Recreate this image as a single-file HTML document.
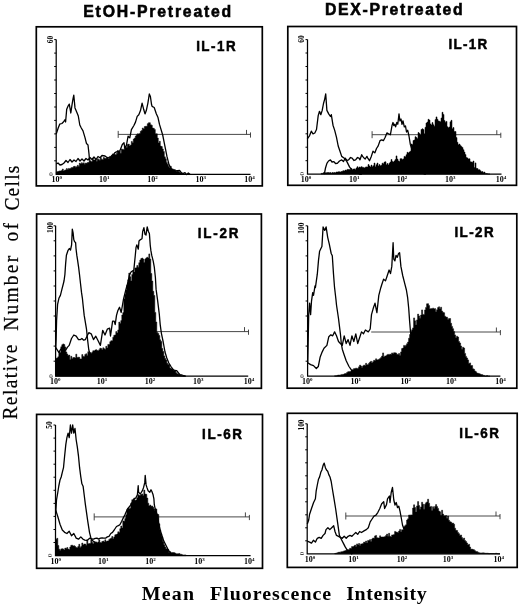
<!DOCTYPE html>
<html><head><meta charset="utf-8"><title>Figure</title>
<style>html,body{margin:0;padding:0;background:#fff;}svg{display:block;}</style></head>
<body><svg width="520" height="605" viewBox="0 0 520 605">
<rect width="520" height="605" fill="#fff"/>

<text x="90.5" y="17.1" transform="scale(0.92,1)" font-family="Liberation Sans, Arial, sans-serif" font-weight="bold" font-size="17.2" stroke="#000" stroke-width="0.6" textLength="160.9" lengthAdjust="spacing" fill="#000">EtOH-Pretreated</text>
<text x="353.2" y="15.2" transform="scale(0.92,1)" font-family="Liberation Sans, Arial, sans-serif" font-weight="bold" font-size="17.2" stroke="#000" stroke-width="0.6" textLength="149.8" lengthAdjust="spacing" fill="#000">DEX-Pretreated</text>
<g font-family="Liberation Serif, serif" font-size="21.6" fill="#000" stroke="#000" stroke-width="0.25">
<text x="0" y="0" transform="translate(17.1 419.6) rotate(-90) scale(0.9,1)" textLength="83.3" lengthAdjust="spacing">Relative</text>
<text x="0" y="0" transform="translate(17.5 330.8) rotate(-90) scale(0.9,1)" textLength="83.3" lengthAdjust="spacing">Number</text>
<text x="0" y="0" transform="translate(18.4 241.6) rotate(-90) scale(0.9,1)" textLength="20.6" lengthAdjust="spacing">of</text>
<text x="0" y="0" transform="translate(18.6 210.6) rotate(-90) scale(0.9,1)" textLength="50" lengthAdjust="spacing">Cells</text>
</g>
<g font-family="Liberation Serif, serif" font-weight="bold" font-size="18.8" fill="#000">
<text x="133.8" y="600" transform="scale(1.06,1)" textLength="49.2" lengthAdjust="spacing">Mean</text>
<text x="198.2" y="600" transform="scale(1.06,1)" textLength="114.2" lengthAdjust="spacing">Fluorescence</text>
<text x="326.6" y="600" transform="scale(1.06,1)" textLength="75.9" lengthAdjust="spacing">Intensity</text>
</g>

<rect x="36.3" y="26.8" width="226" height="159.1" fill="none" stroke="#000" stroke-width="1.7"/>
<path d="M118.2,134.4H250.5M250.5,132.4V137.6M246.5,129.9V134.4M118.2,130.9V137.9" fill="none" stroke="#333" stroke-width="0.9"/>
<polygon points="56.3,174.3 56.3,172 56.3,171.9 57.3,171.9 57.3,171.6 58.3,171.6 58.3,171.3 59.3,171.3 59.3,170.9 60.3,170.9 60.3,171 61.3,171 61.3,170.6 62.3,170.6 62.3,169 63.3,169 63.3,171.1 64.3,171.1 64.3,170.3 65.3,170.3 65.3,169.9 66.3,169.9 66.3,168.6 67.3,168.6 67.3,169.5 68.3,169.5 68.3,168.4 69.3,168.4 69.3,168.8 70.3,168.8 70.3,168.2 71.3,168.2 71.3,167.6 72.3,167.6 72.3,167.6 73.3,167.6 73.3,166.6 74.3,166.6 74.3,166.3 75.3,166.3 75.3,167.2 76.3,167.2 76.3,166.7 77.3,166.7 77.3,165.3 78.3,165.3 78.3,166.6 79.3,166.6 79.3,163.1 80.3,163.1 80.3,163.9 81.3,163.9 81.3,162.7 82.3,162.7 82.3,163.5 83.3,163.5 83.3,162.8 84.3,162.8 84.3,164.3 85.3,164.3 85.3,163 86.3,163 86.3,163.3 87.3,163.3 87.3,162.5 88.3,162.5 88.3,162.3 89.3,162.3 89.3,160.9 90.3,160.9 90.3,161.7 91.3,161.7 91.3,161.5 92.3,161.5 92.3,158.3 93.3,158.3 93.3,160.1 94.3,160.1 94.3,159.9 95.3,159.9 95.3,158.9 96.3,158.9 96.3,161.2 97.3,161.2 97.3,158.7 98.3,158.7 98.3,159.5 99.3,159.5 99.3,160.2 100.3,160.2 100.3,157.6 101.3,157.6 101.3,159.2 102.3,159.2 102.3,159.7 103.3,159.7 103.3,157.6 104.3,157.6 104.3,158.2 105.3,158.2 105.3,158.5 106.3,158.5 106.3,158 107.3,158 107.3,157.1 108.3,157.1 108.3,158.8 109.3,158.8 109.3,156.4 110.3,156.4 110.3,156.8 111.3,156.8 111.3,155.3 112.3,155.3 112.3,153.9 113.3,153.9 113.3,154.5 114.3,154.5 114.3,153.9 115.3,153.9 115.3,154.9 116.3,154.9 116.3,153.4 117.3,153.4 117.3,150.6 118.3,150.6 118.3,152.1 119.3,152.1 119.3,151.2 120.3,151.2 120.3,153.3 121.3,153.3 121.3,148.9 122.3,148.9 122.3,149.5 123.3,149.5 123.3,149.4 124.3,149.4 124.3,146.3 125.3,146.3 125.3,146.4 126.3,146.4 126.3,147.6 127.3,147.6 127.3,144.5 128.3,144.5 128.3,144.1 129.3,144.1 129.3,146.1 130.3,146.1 130.3,145 131.3,145 131.3,141.4 132.3,141.4 132.3,142.7 133.3,142.7 133.3,139.1 134.3,139.1 134.3,138.1 135.3,138.1 135.3,136 136.3,136 136.3,134.7 137.3,134.7 137.3,133.8 138.3,133.8 138.3,134 139.3,134 139.3,133.6 140.3,133.6 140.3,131.3 141.3,131.3 141.3,130.6 142.3,130.6 142.3,128 143.3,128 143.3,129.1 144.3,129.1 144.3,126.6 145.3,126.6 145.3,126.3 146.3,126.3 146.3,126.3 147.3,126.3 147.3,123.7 148.3,123.7 148.3,122.8 149.3,122.8 149.3,122.7 150.3,122.7 150.3,124.7 151.3,124.7 151.3,125.3 152.3,125.3 152.3,128.1 153.3,128.1 153.3,128.3 154.3,128.3 154.3,129.5 155.3,129.5 155.3,133.7 156.3,133.7 156.3,133.8 157.3,133.8 157.3,138 158.3,138 158.3,143 159.3,143 159.3,141.3 160.3,141.3 160.3,146.1 161.3,146.1 161.3,146.6 162.3,146.6 162.3,149 163.3,149 163.3,151.5 164.3,151.5 164.3,156.8 165.3,156.8 165.3,158.8 166.3,158.8 166.3,162.4 167.3,162.4 167.3,164.3 168.3,164.3 168.3,166.5 169.3,166.5 169.3,167.7 170.3,167.7 170.3,166.3 171.3,166.3 171.3,168.8 172.3,168.8 172.3,168.9 173.3,168.9 173.3,169.6 174.3,169.6 174.3,169.5 175.3,169.5 175.3,170.6 176.3,170.6 176.3,171.6 177.3,171.6 177.3,171.1 178.3,171.1 178.3,171.4 179.3,171.4 179.3,172.3 180.3,172.3 180.3,172.9 181.3,172.9 181.3,172.8 182.3,172.8 182.3,173.8 183.3,173.8 183.3,173.9 184.3,173.9 184.3,173.9 185.3,173.9 185.3,174.2 186,174.2 186,174.3 186,174.3" fill="#000" stroke="#000" stroke-width="0.5" stroke-linejoin="miter"/>
<polyline points="56.3,133.9 58.2,128 59.7,124.2 61.9,123.5 63.4,122 64.9,119.8 65.6,122 66.7,109.3 67.9,106.4 69.3,104.1 70.8,113 72,104.9 73,98.9 73.8,95.2 75,107.9 76.8,112.3 78.3,116 79.8,125 81.3,128 83,130.9 85,137.6 86.5,143.6 88,145 89,154 89.4,158.5 90,161 92,166 94,168.6 96,170 97.6,170.7 99.2,170.7 100.8,172.3 102.4,172 104,172.5 105.6,171.8 107.2,172.2 108.8,172.9 110.4,173 112,173.4 113.6,173.4 115.2,173.7 116.8,173.6 118.4,172.6 120,174" fill="none" stroke="#000" stroke-width="1.3" stroke-linejoin="round"/>
<polyline points="56.3,164 58,163 60,165 62,164.5 64,163 66,160.5 68,162.5 70,159.5 72,162 74,160 76,161.5 78,158.5 80,161 82,159 84,161 86,158.5 88,160 90,157.5 92,159.5 94,157 96,159.5 98,156.5 100,157.7 102,155.5 105,156 106.7,157.3 108.3,157.7 109.9,157.9 111.6,156 113.2,154.8 114.9,152.7 116.5,151.9 118.2,151.3 119.8,151 122.3,144.5 124,142.8 124.8,147.8 126.4,145.3 128.1,136.2 129.8,137.9 131.4,129.6 133.9,125.5 135.5,122.1 137.2,116.4 138.8,114.7 140.5,110.6 142.1,103.1 143.8,109.8 145,113.9 146.3,110.6 147.9,103.1 149.3,94 150.4,96.5 151.6,104.8 152.1,106.4 154.2,107.5 156.3,113.8 157.9,117.2 159.5,124.4 162.7,135 164.8,145.6 166.9,156.2 169,164.6 171.2,168.9 173.3,170.4 175.4,171 177.5,170.7 179.6,170.5 181.7,173.1 183.4,173.4 185,172.6 186.7,174.6 188.3,173 190,174.3" fill="none" stroke="#000" stroke-width="1.3" stroke-linejoin="round"/>
<path d="M56.2,39.6 V174.3 H250.5" fill="none" stroke="#000" stroke-width="1.25"/>
<path d="M54.2,39.6H56.2M54.2,53.1H56.2M54.2,66.5H56.2M54.2,80H56.2M54.2,93.5H56.2M54.2,107H56.2M54.2,120.4H56.2M54.2,133.9H56.2M54.2,147.4H56.2M54.2,160.8H56.2" stroke="#000" stroke-width="1"/>
<text x="52.8" y="39.6" transform="rotate(-90 52.8 39.6)" font-family="Liberation Serif, serif" font-size="7.4" font-weight="bold" text-anchor="middle" fill="#000">60</text>
<text x="52.8" y="174" transform="rotate(-90 52.8 174)" font-family="Liberation Serif, serif" font-size="7" text-anchor="middle" fill="#000">0</text>
<text x="56.8" y="182.4" font-family="Liberation Serif, serif" font-size="8" font-weight="bold" text-anchor="middle" fill="#000">10<tspan font-size="5" dy="-3">0</tspan></text>
<text x="104.2" y="182.4" font-family="Liberation Serif, serif" font-size="8" font-weight="bold" text-anchor="middle" fill="#000">10<tspan font-size="5" dy="-3">1</tspan></text>
<text x="152.5" y="182.4" font-family="Liberation Serif, serif" font-size="8" font-weight="bold" text-anchor="middle" fill="#000">10<tspan font-size="5" dy="-3">2</tspan></text>
<text x="200.7" y="182.4" font-family="Liberation Serif, serif" font-size="8" font-weight="bold" text-anchor="middle" fill="#000">10<tspan font-size="5" dy="-3">3</tspan></text>
<text x="249.5" y="182.4" font-family="Liberation Serif, serif" font-size="8" font-weight="bold" text-anchor="middle" fill="#000">10<tspan font-size="5" dy="-3">4</tspan></text>
<text x="213.2" y="51.1" transform="scale(0.92,1)" font-family="Liberation Sans, Arial, sans-serif" font-weight="bold" font-size="14.6" stroke="#000" stroke-width="0.5" textLength="42.9" lengthAdjust="spacing" fill="#000">IL-1R</text>
<rect x="287.8" y="26.5" width="228.7" height="158.8" fill="none" stroke="#000" stroke-width="1.7"/>
<path d="M372.1,134.7H500.8M500.8,132.7V137.9M496.8,130.2V134.7M372.1,131.2V138.2" fill="none" stroke="#333" stroke-width="0.9"/>
<polygon points="321,174.1 321,174.1 321,173.4 322,173.4 322,173.5 323,173.5 323,172.7 324,172.7 324,173.4 325,173.4 325,172.8 326,172.8 326,172.7 327,172.7 327,172.6 328,172.6 328,172.5 329,172.5 329,172.7 330,172.7 330,172.6 331,172.6 331,173.2 332,173.2 332,172.5 333,172.5 333,172.7 334,172.7 334,172.5 335,172.5 335,172.8 336,172.8 336,172 337,172 337,172.1 338,172.1 338,171.8 339,171.8 339,171.8 340,171.8 340,172 341,172 341,171.6 342,171.6 342,171.2 343,171.2 343,170.7 344,170.7 344,170.9 345,170.9 345,170.1 346,170.1 346,170.3 347,170.3 347,169.4 348,169.4 348,169.5 349,169.5 349,169.4 350,169.4 350,169.5 351,169.5 351,168.4 352,168.4 352,169.8 353,169.8 353,169.1 354,169.1 354,168.9 355,168.9 355,169.4 356,169.4 356,168 357,168 357,166.7 358,166.7 358,168 359,168 359,167 360,167 360,167.3 361,167.3 361,166.7 362,166.7 362,167.2 363,167.2 363,167.4 364,167.4 364,168 365,168 365,167.2 366,167.2 366,166.9 367,166.9 367,167.1 368,167.1 368,164.5 369,164.5 369,166 370,166 370,167.1 371,167.1 371,165.1 372,165.1 372,166.7 373,166.7 373,165.7 374,165.7 374,163.1 375,163.1 375,166.8 376,166.8 376,164.7 377,164.7 377,163.1 378,163.1 378,166 379,166 379,164.6 380,164.6 380,165.8 381,165.8 381,165.3 382,165.3 382,163.2 383,163.2 383,163.7 384,163.7 384,162.1 385,162.1 385,161.8 386,161.8 386,164.8 387,164.8 387,163.5 388,163.5 388,164.9 389,164.9 389,163.3 390,163.3 390,162.1 391,162.1 391,159.5 392,159.5 392,161.6 393,161.6 393,162.1 394,162.1 394,160.9 395,160.9 395,159.5 396,159.5 396,155.9 397,155.9 397,159.1 398,159.1 398,160.9 399,160.9 399,161.5 400,161.5 400,158.7 401,158.7 401,158.7 402,158.7 402,159.4 403,159.4 403,158.9 404,158.9 404,156.4 405,156.4 405,156.7 406,156.7 406,154.7 407,154.7 407,152.3 408,152.3 408,153 409,153 409,152 410,152 410,151.3 411,151.3 411,144 412,144 412,144.4 413,144.4 413,140.5 414,140.5 414,139.9 415,139.9 415,136.7 416,136.7 416,137.5 417,137.5 417,138.4 418,138.4 418,132.5 419,132.5 419,133.5 420,133.5 420,134.9 421,134.9 421,129.5 422,129.5 422,128.8 423,128.8 423,129.6 424,129.6 424,133.7 425,133.7 425,127.3 426,127.3 426,123 427,123 427,122.1 428,122.1 428,119.3 429,119.3 429,120.1 430,120.1 430,123.9 431,123.9 431,125 432,125 432,122.6 433,122.6 433,124.8 434,124.8 434,126.3 435,126.3 435,119.6 436,119.6 436,116.9 437,116.9 437,119.3 438,119.3 438,120.9 439,120.9 439,121.3 440,121.3 440,121.7 441,121.7 441,118 442,118 442,112.3 443,112.3 443,114.5 444,114.5 444,120.5 445,120.5 445,122.2 446,122.2 446,121.4 447,121.4 447,126.7 448,126.7 448,127.7 449,127.7 449,127 450,127 450,121.8 451,121.8 451,120.3 452,120.3 452,128.7 453,128.7 453,127.6 454,127.6 454,131.5 455,131.5 455,131.5 456,131.5 456,137.6 457,137.6 457,142.3 458,142.3 458,144.8 459,144.8 459,144.1 460,144.1 460,145.4 461,145.4 461,146.6 462,146.6 462,147.5 463,147.5 463,149.7 464,149.7 464,152.1 465,152.1 465,154.6 466,154.6 466,157.5 467,157.5 467,157.9 468,157.9 468,159 469,159 469,158.8 470,158.8 470,161.8 471,161.8 471,162 472,162 472,162.3 473,162.3 473,161.1 474,161.1 474,167.5 475,167.5 475,162.9 476,162.9 476,168.3 477,168.3 477,168.5 478,168.5 478,169.7 479,169.7 479,169.7 480,169.7 480,170.7 481,170.7 481,171.7 482,171.7 482,171.6 483,171.6 483,172.4 484,172.4 484,172.1 485,172.1 485,173.4 486,173.4 486,173.6 487,173.6 487,173.8 488,173.8 488,174 489,174 489,174 490,174 490,174.1 490,174.1" fill="#000" stroke="#000" stroke-width="0.5" stroke-linejoin="miter"/>
<polyline points="307.3,139 309.6,135.6 311.3,131.2 313,133.8 314.8,133 316.5,129.5 318.2,115.6 319.5,111.3 320.8,114.7 322.2,110.4 323.5,103.5 324.7,99.1 325.7,93.9 326.9,110.4 328.7,113.9 330.4,116.5 331.3,114.7 333,125.2 334.7,130.4 336.5,137.3 338.2,146 340,151.2 341.7,156.4 344.3,158.2 346.9,161.6 349.5,166.9 352.1,170.3 354.1,172.7 356,172.5 358,172.8 360,174.4 362,174.1" fill="none" stroke="#000" stroke-width="1.3" stroke-linejoin="round"/>
<polyline points="324.3,174.1 325.5,168 326.9,163.4 328.5,161 330.4,159.9 332,162 333.9,161.6 335.5,163.5 337.3,163.4 339.5,161 341.7,159.9 343.5,161.5 345.2,158.2 347,160.5 348.6,159.9 350.5,157.5 352.1,158.2 354,160.5 355.6,159.9 357.5,157.5 359,158.2 360,159.8 361.7,154.7 362.6,156.4 364.3,158.2 365.2,159 366.9,156.4 367.8,158.1 369.5,160.7 371.3,156.4 373,151.2 374.8,152.9 376.5,148.5 378.2,145.9 380,140.7 381.7,139.9 383.4,140.7 385.2,137.3 386.9,132.9 388.6,133.8 390.4,134.7 392.1,125.1 393,122.5 393.8,125.5 394.7,124.3 395.6,126.9 396.8,122.5 397.8,124.3 399,113.8 399.9,120.8 401,119 402,124.3 403,120.8 404.3,126.9 405.5,126 406.5,132 407.7,130.3 408.9,135.5 410.3,144.2 411.7,148.5 413,153 414.5,158 416,163 418,168 421,172 422.7,172.3 424.3,174.1 426,174.1" fill="none" stroke="#000" stroke-width="1.3" stroke-linejoin="round"/>
<path d="M307.5,39.6 V174.1 H501.5" fill="none" stroke="#000" stroke-width="1.25"/>
<path d="M305.5,39.6H307.5M305.5,53H307.5M305.5,66.5H307.5M305.5,80H307.5M305.5,93.4H307.5M305.5,106.8H307.5M305.5,120.3H307.5M305.5,133.8H307.5M305.5,147.2H307.5M305.5,160.7H307.5" stroke="#000" stroke-width="1"/>
<text x="303.9" y="39.1" transform="rotate(-90 303.9 39.1)" font-family="Liberation Serif, serif" font-size="7.4" font-weight="bold" text-anchor="middle" fill="#000">60</text>
<text x="303.9" y="173.8" transform="rotate(-90 303.9 173.8)" font-family="Liberation Serif, serif" font-size="7" text-anchor="middle" fill="#000">0</text>
<text x="306.1" y="182.2" font-family="Liberation Serif, serif" font-size="8" font-weight="bold" text-anchor="middle" fill="#000">10<tspan font-size="5" dy="-3">0</tspan></text>
<text x="354.3" y="182.2" font-family="Liberation Serif, serif" font-size="8" font-weight="bold" text-anchor="middle" fill="#000">10<tspan font-size="5" dy="-3">1</tspan></text>
<text x="402.1" y="182.2" font-family="Liberation Serif, serif" font-size="8" font-weight="bold" text-anchor="middle" fill="#000">10<tspan font-size="5" dy="-3">2</tspan></text>
<text x="450.3" y="182.2" font-family="Liberation Serif, serif" font-size="8" font-weight="bold" text-anchor="middle" fill="#000">10<tspan font-size="5" dy="-3">3</tspan></text>
<text x="501" y="182.2" font-family="Liberation Serif, serif" font-size="8" font-weight="bold" text-anchor="middle" fill="#000">10<tspan font-size="5" dy="-3">4</tspan></text>
<text x="487.5" y="48.9" transform="scale(0.92,1)" font-family="Liberation Sans, Arial, sans-serif" font-weight="bold" font-size="14.6" stroke="#000" stroke-width="0.5" textLength="42" lengthAdjust="spacing" fill="#000">IL-1R</text>
<rect x="36.6" y="214" width="224.8" height="174.3" fill="none" stroke="#000" stroke-width="1.7"/>
<path d="M130,331.6H248.5M248.5,329.6V334.8M244.5,327.1V331.6" fill="none" stroke="#333" stroke-width="0.9"/>
<polygon points="55.8,376.2 55.8,359 55.8,358.2 56.8,358.2 56.8,358.1 57.8,358.1 57.8,356.8 58.8,356.8 58.8,352.1 59.8,352.1 59.8,352.4 60.8,352.4 60.8,346.8 61.8,346.8 61.8,344.7 62.8,344.7 62.8,343.9 63.8,343.9 63.8,344.6 64.8,344.6 64.8,346.9 65.8,346.9 65.8,352 66.8,352 66.8,354 67.8,354 67.8,355.5 68.8,355.5 68.8,355.1 69.8,355.1 69.8,359.4 70.8,359.4 70.8,356.3 71.8,356.3 71.8,358.8 72.8,358.8 72.8,357.6 73.8,357.6 73.8,357.5 74.8,357.5 74.8,358 75.8,358 75.8,354.2 76.8,354.2 76.8,357.6 77.8,357.6 77.8,357.2 78.8,357.2 78.8,357.3 79.8,357.3 79.8,359 80.8,359 80.8,358.9 81.8,358.9 81.8,354.6 82.8,354.6 82.8,356.5 83.8,356.5 83.8,356.4 84.8,356.4 84.8,354.4 85.8,354.4 85.8,353.8 86.8,353.8 86.8,355.4 87.8,355.4 87.8,351.7 88.8,351.7 88.8,352.5 89.8,352.5 89.8,352.6 90.8,352.6 90.8,353.3 91.8,353.3 91.8,352.2 92.8,352.2 92.8,350.7 93.8,350.7 93.8,350.9 94.8,350.9 94.8,350.1 95.8,350.1 95.8,349.7 96.8,349.7 96.8,350.5 97.8,350.5 97.8,350.8 98.8,350.8 98.8,349.7 99.8,349.7 99.8,348.2 100.8,348.2 100.8,348.6 101.8,348.6 101.8,349.7 102.8,349.7 102.8,347.8 103.8,347.8 103.8,348.8 104.8,348.8 104.8,349.2 105.8,349.2 105.8,346.3 106.8,346.3 106.8,348.1 107.8,348.1 107.8,344.4 108.8,344.4 108.8,344.6 109.8,344.6 109.8,341.7 110.8,341.7 110.8,340.7 111.8,340.7 111.8,340.7 112.8,340.7 112.8,337.2 113.8,337.2 113.8,335.2 114.8,335.2 114.8,335 115.8,335 115.8,331.6 116.8,331.6 116.8,332.9 117.8,332.9 117.8,329.9 118.8,329.9 118.8,322.1 119.8,322.1 119.8,323.6 120.8,323.6 120.8,320.6 121.8,320.6 121.8,315 122.8,315 122.8,312.6 123.8,312.6 123.8,298.9 124.8,298.9 124.8,294.2 125.8,294.2 125.8,290.1 126.8,290.1 126.8,285.1 127.8,285.1 127.8,279.8 128.8,279.8 128.8,273 129.8,273 129.8,276.8 130.8,276.8 130.8,281 131.8,281 131.8,274.4 132.8,274.4 132.8,271.1 133.8,271.1 133.8,272.1 134.8,272.1 134.8,268.1 135.8,268.1 135.8,267.8 136.8,267.8 136.8,265.5 137.8,265.5 137.8,267.2 138.8,267.2 138.8,262.7 139.8,262.7 139.8,260.1 140.8,260.1 140.8,258.6 141.8,258.6 141.8,258 142.8,258 142.8,259.1 143.8,259.1 143.8,262.5 144.8,262.5 144.8,259.1 145.8,259.1 145.8,258 146.8,258 146.8,257.2 147.8,257.2 147.8,258 148.8,258 148.8,253.9 149.8,253.9 149.8,259 150.8,259 150.8,273.5 151.8,273.5 151.8,281.1 152.8,281.1 152.8,291.3 153.8,291.3 153.8,295.5 154.8,295.5 154.8,312.4 155.8,312.4 155.8,322 156.8,322 156.8,332.4 157.8,332.4 157.8,333.4 158.8,333.4 158.8,335.5 159.8,335.5 159.8,339.8 160.8,339.8 160.8,341.6 161.8,341.6 161.8,348.5 162.8,348.5 162.8,351.5 163.8,351.5 163.8,355.9 164.8,355.9 164.8,358.4 165.8,358.4 165.8,360.1 166.8,360.1 166.8,363.2 167.8,363.2 167.8,364.4 168.8,364.4 168.8,364.3 169.8,364.3 169.8,368.1 170.8,368.1 170.8,368.9 171.8,368.9 171.8,368.3 172.8,368.3 172.8,369.7 173.8,369.7 173.8,370.8 174.8,370.8 174.8,370.8 175.8,370.8 175.8,372.7 176.8,372.7 176.8,373.8 177.8,373.8 177.8,374.1 178.8,374.1 178.8,374.7 179.8,374.7 179.8,375.1 180.8,375.1 180.8,375.8 181.8,375.8 181.8,375.9 182.8,375.9 182.8,376.1 183.8,376.1 183.8,375.6 184.8,375.6 184.8,376 185,376 185,376.2 185,376.2" fill="#000" stroke="#000" stroke-width="0.5" stroke-linejoin="miter"/>
<polyline points="55.6,350 56.1,340 56.6,320 57.6,304.3 58.9,298.3 60.4,295.4 61.9,289.4 63.4,283.5 64.1,280.5 64.9,274.5 65.6,264.1 66.4,255.2 67.9,250.7 69.3,248.5 70.5,250 71.6,244.8 72.3,229.1 73.1,232.9 73.8,239.6 74.6,241.8 75.6,242.5 76,248.5 76.8,255.2 77.5,259.6 78.6,267.1 79.5,274.5 80.5,283.5 81.5,292.4 82.4,298.3 83,304.3 84.2,315.4 86.5,329.2 87.7,340.8 88.8,350 90.5,355 93,360 95,363.5 97,365" fill="none" stroke="#000" stroke-width="1.3" stroke-linejoin="round"/>
<polyline points="55.8,347.7 58.8,352.3 60.5,349.7 62.3,347.7 64,350.4 65.8,350 67.5,347.1 69.2,345.4 71.5,338.5 73.8,335 76.2,336.2 78.5,339.6 80.2,339.7 81.9,338.5 83.7,340.2 85.4,339.6 87.1,335.9 88.8,332.7 91.2,333.8 93.5,339.6 95.8,336.2 98.1,340.8 100.4,345.4 102.7,330.4 105,335 107.3,329.2 109.6,328.1 110.5,336 112.6,321.2 114.2,321.2 115.2,324.6 116.5,315.4 117.8,310.8 119.5,307.3 121.2,312.5 123.5,299.2 125.8,290 128,282 129.5,275 131,272 133.8,270.1 135.3,255.2 136,247.7 136.8,244.8 138.3,249.2 139,241 140.5,239.6 142,238.8 142.7,231.4 143.9,227.6 145,234.3 146,235.1 147.2,226.9 148.4,231.4 149.4,233.6 150.2,244.8 150.9,250.7 151.7,255.2 153.2,261.1 154.3,267.1 155.4,277.5 156.1,289.4 157.6,300.4 159.3,314.2 160.2,324.6 161.4,333.3 163.2,342 165,352 166.8,358 168.8,363 171.3,367 173.1,369.6 174.8,370.5 176.7,370.6 178.5,373 180.2,375 182,375 184,375.8 186,376.2" fill="none" stroke="#000" stroke-width="1.3" stroke-linejoin="round"/>
<path d="M55.6,225.8 V376.2 H248.2" fill="none" stroke="#000" stroke-width="1.25"/>
<path d="M53.6,225.8H55.6M53.6,240.8H55.6M53.6,255.9H55.6M53.6,270.9H55.6M53.6,286H55.6M53.6,301H55.6M53.6,316H55.6M53.6,331.1H55.6M53.6,346.1H55.6M53.6,361.2H55.6" stroke="#000" stroke-width="1"/>
<text x="52.8" y="227.5" transform="rotate(-90 52.8 227.5)" font-family="Liberation Serif, serif" font-size="7.4" font-weight="bold" text-anchor="middle" fill="#000">100</text>
<text x="52.8" y="375.9" transform="rotate(-90 52.8 375.9)" font-family="Liberation Serif, serif" font-size="7" text-anchor="middle" fill="#000">0</text>
<text x="55.2" y="384.3" font-family="Liberation Serif, serif" font-size="8" font-weight="bold" text-anchor="middle" fill="#000">10<tspan font-size="5" dy="-3">0</tspan></text>
<text x="102.1" y="384.3" font-family="Liberation Serif, serif" font-size="8" font-weight="bold" text-anchor="middle" fill="#000">10<tspan font-size="5" dy="-3">1</tspan></text>
<text x="150" y="384.3" font-family="Liberation Serif, serif" font-size="8" font-weight="bold" text-anchor="middle" fill="#000">10<tspan font-size="5" dy="-3">2</tspan></text>
<text x="198.2" y="384.3" font-family="Liberation Serif, serif" font-size="8" font-weight="bold" text-anchor="middle" fill="#000">10<tspan font-size="5" dy="-3">3</tspan></text>
<text x="249" y="384.3" font-family="Liberation Serif, serif" font-size="8" font-weight="bold" text-anchor="middle" fill="#000">10<tspan font-size="5" dy="-3">4</tspan></text>
<text x="215" y="237.7" transform="scale(0.92,1)" font-family="Liberation Sans, Arial, sans-serif" font-weight="bold" font-size="14.6" stroke="#000" stroke-width="0.5" textLength="44.1" lengthAdjust="spacing" fill="#000">IL-2R</text>
<rect x="287.2" y="213.8" width="229.6" height="174.4" fill="none" stroke="#000" stroke-width="1.7"/>
<path d="M371.2,332H500.4M500.4,330V335.2M496.4,327.5V332" fill="none" stroke="#333" stroke-width="0.9"/>
<polygon points="334.6,376.2 334.6,376.2 334.6,375.8 335.6,375.8 335.6,376 336.6,376 336.6,375.5 337.6,375.5 337.6,375.1 338.6,375.1 338.6,375.1 339.6,375.1 339.6,375.2 340.6,375.2 340.6,374.8 341.6,374.8 341.6,374.4 342.6,374.4 342.6,374.5 343.6,374.5 343.6,374.1 344.6,374.1 344.6,373.6 345.6,373.6 345.6,373.5 346.6,373.5 346.6,372.5 347.6,372.5 347.6,371.8 348.6,371.8 348.6,371.6 349.6,371.6 349.6,371.7 350.6,371.7 350.6,371.1 351.6,371.1 351.6,370 352.6,370 352.6,369.4 353.6,369.4 353.6,368.6 354.6,368.6 354.6,368.8 355.6,368.8 355.6,368 356.6,368 356.6,368.7 357.6,368.7 357.6,368.2 358.6,368.2 358.6,366.8 359.6,366.8 359.6,365.1 360.6,365.1 360.6,366 361.6,366 361.6,367.4 362.6,367.4 362.6,365.9 363.6,365.9 363.6,365 364.6,365 364.6,365.8 365.6,365.8 365.6,363.3 366.6,363.3 366.6,365.1 367.6,365.1 367.6,364.4 368.6,364.4 368.6,363.3 369.6,363.3 369.6,362.1 370.6,362.1 370.6,361.3 371.6,361.3 371.6,363.1 372.6,363.1 372.6,361.7 373.6,361.7 373.6,360.3 374.6,360.3 374.6,360.4 375.6,360.4 375.6,358.8 376.6,358.8 376.6,360.1 377.6,360.1 377.6,359.7 378.6,359.7 378.6,359.3 379.6,359.3 379.6,358.6 380.6,358.6 380.6,357.6 381.6,357.6 381.6,356.1 382.6,356.1 382.6,352.9 383.6,352.9 383.6,357.1 384.6,357.1 384.6,355.9 385.6,355.9 385.6,356 386.6,356 386.6,354.9 387.6,354.9 387.6,354.3 388.6,354.3 388.6,354.9 389.6,354.9 389.6,354.1 390.6,354.1 390.6,354.6 391.6,354.6 391.6,352.9 392.6,352.9 392.6,353.8 393.6,353.8 393.6,352.7 394.6,352.7 394.6,352.8 395.6,352.8 395.6,353 396.6,353 396.6,354.3 397.6,354.3 397.6,354.4 398.6,354.4 398.6,353.5 399.6,353.5 399.6,355.6 400.6,355.6 400.6,351.9 401.6,351.9 401.6,348.6 402.6,348.6 402.6,348.1 403.6,348.1 403.6,345.4 404.6,345.4 404.6,346.2 405.6,346.2 405.6,345.2 406.6,345.2 406.6,343.7 407.6,343.7 407.6,342.1 408.6,342.1 408.6,338.2 409.6,338.2 409.6,334.5 410.6,334.5 410.6,331.8 411.6,331.8 411.6,329.8 412.6,329.8 412.6,327.9 413.6,327.9 413.6,317.9 414.6,317.9 414.6,320.8 415.6,320.8 415.6,325 416.6,325 416.6,319.9 417.6,319.9 417.6,314.1 418.6,314.1 418.6,315.9 419.6,315.9 419.6,318.2 420.6,318.2 420.6,315.1 421.6,315.1 421.6,309.9 422.6,309.9 422.6,314.4 423.6,314.4 423.6,314.4 424.6,314.4 424.6,309.9 425.6,309.9 425.6,307.4 426.6,307.4 426.6,303.8 427.6,303.8 427.6,303.7 428.6,303.7 428.6,305.6 429.6,305.6 429.6,309.1 430.6,309.1 430.6,308.5 431.6,308.5 431.6,309 432.6,309 432.6,308 433.6,308 433.6,308.9 434.6,308.9 434.6,308.6 435.6,308.6 435.6,311.7 436.6,311.7 436.6,309.7 437.6,309.7 437.6,307.6 438.6,307.6 438.6,306.8 439.6,306.8 439.6,308.8 440.6,308.8 440.6,307.2 441.6,307.2 441.6,311 442.6,311 442.6,312.3 443.6,312.3 443.6,312.7 444.6,312.7 444.6,316.2 445.6,316.2 445.6,317.1 446.6,317.1 446.6,317.2 447.6,317.2 447.6,319.5 448.6,319.5 448.6,318.5 449.6,318.5 449.6,318.5 450.6,318.5 450.6,323.3 451.6,323.3 451.6,326.4 452.6,326.4 452.6,328.7 453.6,328.7 453.6,331.5 454.6,331.5 454.6,334.9 455.6,334.9 455.6,337.8 456.6,337.8 456.6,336.2 457.6,336.2 457.6,337.1 458.6,337.1 458.6,341.5 459.6,341.5 459.6,343 460.6,343 460.6,346 461.6,346 461.6,349.3 462.6,349.3 462.6,347.3 463.6,347.3 463.6,348 464.6,348 464.6,353.4 465.6,353.4 465.6,356.4 466.6,356.4 466.6,358 467.6,358 467.6,359.9 468.6,359.9 468.6,363.5 469.6,363.5 469.6,362.9 470.6,362.9 470.6,365.6 471.6,365.6 471.6,365.5 472.6,365.5 472.6,368.8 473.6,368.8 473.6,369.3 474.6,369.3 474.6,371 475.6,371 475.6,371.8 476.6,371.8 476.6,373.1 477.6,373.1 477.6,373.3 478.6,373.3 478.6,373.6 479.6,373.6 479.6,373.9 480.6,373.9 480.6,374.5 481.6,374.5 481.6,374.6 482.6,374.6 482.6,375.2 483.6,375.2 483.6,375.4 484.6,375.4 484.6,376 485.6,376 485.6,376.1 486.6,376.1 486.6,375.6 487.6,375.6 487.6,376.2 488.6,376.2 488.6,376.2 489.6,376.2 489.6,376.2 490,376.2 490,376.2 490,376.2" fill="#000" stroke="#000" stroke-width="0.5" stroke-linejoin="miter"/>
<polyline points="307.7,362.7 308.2,340 308.7,314.6 309.6,303.1 310.6,314.6 311.5,301.2 312.7,292.7 313.5,295.4 315,285.8 315.4,287.7 317.3,274.2 318.5,260.4 319.6,251.2 320.8,248.8 321.9,246.5 323.1,226.9 324.7,230.4 326.1,226.9 327.7,237.3 329.3,244.2 331.2,253.5 332.3,255.8 333.5,274 334.5,287 336,300 336.5,305 338.5,318.5 340.4,333.8 341.3,343.5 342.3,349.2 344.2,355 346.2,360.8 349,366.5 351,369.4 352.9,372.3 356,374.5" fill="none" stroke="#000" stroke-width="1.3" stroke-linejoin="round"/>
<polyline points="307.7,362.7 310.6,364.6 313.5,365.6 316.3,368.5 318.3,366.5 320.2,356.9 322.1,352.1 324,348.3 326.9,345.4 328.8,336.7 330.8,334.8 332.7,335.8 334.6,331.9 336.5,335.8 338.5,341.5 340.4,343.5 342.3,345.4 344.2,335.8 346.2,343.5 348.1,339.6 350,345.4 351.9,335.8 353.8,341.5 355.8,333.8 357.7,343.5 359.6,337.7 361.5,331.9 363.5,333.8 365.4,330 368.3,331.9 370.2,329 371.5,314.6 373.1,308.8 375,303.1 376.9,312.7 378.8,295.4 380.8,287.7 381.8,284.5 383.6,279.1 385.5,280.9 387.3,275.5 389.1,270 390.5,273.6 391.8,266.4 393.1,242.7 393.8,259.1 394.9,260.9 396,255.5 397.3,257.3 398.5,253.6 399.6,252.7 400.9,266.4 402.7,275.5 404.5,282.7 406.4,290 407.6,297.3 408.7,308.2 409.6,320.9 410.5,331.8 411.3,339.1 412,345 413,352" fill="none" stroke="#000" stroke-width="1.3" stroke-linejoin="round"/>
<path d="M307.6,225.8 V376.2 H500.4" fill="none" stroke="#000" stroke-width="1.25"/>
<path d="M305.6,225.8H307.6M305.6,240.8H307.6M305.6,255.9H307.6M305.6,270.9H307.6M305.6,286H307.6M305.6,301H307.6M305.6,316H307.6M305.6,331.1H307.6M305.6,346.1H307.6M305.6,361.2H307.6" stroke="#000" stroke-width="1"/>
<text x="303.6" y="228.1" transform="rotate(-90 303.6 228.1)" font-family="Liberation Serif, serif" font-size="7.4" font-weight="bold" text-anchor="middle" fill="#000">100</text>
<text x="303.6" y="375.9" transform="rotate(-90 303.6 375.9)" font-family="Liberation Serif, serif" font-size="7" text-anchor="middle" fill="#000">0</text>
<text x="307.2" y="384.3" font-family="Liberation Serif, serif" font-size="8" font-weight="bold" text-anchor="middle" fill="#000">10<tspan font-size="5" dy="-3">0</tspan></text>
<text x="355.8" y="384.3" font-family="Liberation Serif, serif" font-size="8" font-weight="bold" text-anchor="middle" fill="#000">10<tspan font-size="5" dy="-3">1</tspan></text>
<text x="405.7" y="384.3" font-family="Liberation Serif, serif" font-size="8" font-weight="bold" text-anchor="middle" fill="#000">10<tspan font-size="5" dy="-3">2</tspan></text>
<text x="451.3" y="384.3" font-family="Liberation Serif, serif" font-size="8" font-weight="bold" text-anchor="middle" fill="#000">10<tspan font-size="5" dy="-3">3</tspan></text>
<text x="500.4" y="384.3" font-family="Liberation Serif, serif" font-size="8" font-weight="bold" text-anchor="middle" fill="#000">10<tspan font-size="5" dy="-3">4</tspan></text>
<text x="493.9" y="236.6" transform="scale(0.92,1)" font-family="Liberation Sans, Arial, sans-serif" font-weight="bold" font-size="14.6" stroke="#000" stroke-width="0.5" textLength="42.7" lengthAdjust="spacing" fill="#000">IL-2R</text>
<rect x="36.6" y="414.4" width="225.9" height="153.9" fill="none" stroke="#000" stroke-width="1.7"/>
<path d="M94.2,516.9H249.4M249.4,514.9V520.1M245.4,512.4V516.9M94.2,513.4V520.4" fill="none" stroke="#333" stroke-width="0.9"/>
<polygon points="55.8,555.6 55.8,541.5 55.8,539.3 56.8,539.3 56.8,538.3 57.8,538.3 57.8,545.5 58.8,545.5 58.8,549.2 59.8,549.2 59.8,550.5 60.8,550.5 60.8,548.9 61.8,548.9 61.8,548.7 62.8,548.7 62.8,549 63.8,549 63.8,550.1 64.8,550.1 64.8,548.1 65.8,548.1 65.8,548.6 66.8,548.6 66.8,547.5 67.8,547.5 67.8,549.1 68.8,549.1 68.8,549.6 69.8,549.6 69.8,547 70.8,547 70.8,545.3 71.8,545.3 71.8,545.2 72.8,545.2 72.8,546.1 73.8,546.1 73.8,545.7 74.8,545.7 74.8,546.5 75.8,546.5 75.8,547.5 76.8,547.5 76.8,547.8 77.8,547.8 77.8,546.5 78.8,546.5 78.8,544.3 79.8,544.3 79.8,547.4 80.8,547.4 80.8,546.5 81.8,546.5 81.8,543 82.8,543 82.8,545 83.8,545 83.8,544 84.8,544 84.8,544.1 85.8,544.1 85.8,545.2 86.8,545.2 86.8,540.1 87.8,540.1 87.8,543.8 88.8,543.8 88.8,543.6 89.8,543.6 89.8,543.5 90.8,543.5 90.8,540.1 91.8,540.1 91.8,542.6 92.8,542.6 92.8,543.8 93.8,543.8 93.8,541.8 94.8,541.8 94.8,542.4 95.8,542.4 95.8,541.9 96.8,541.9 96.8,542.8 97.8,542.8 97.8,541.9 98.8,541.9 98.8,540 99.8,540 99.8,542.5 100.8,542.5 100.8,542.8 101.8,542.8 101.8,541.5 102.8,541.5 102.8,541 103.8,541 103.8,541.9 104.8,541.9 104.8,539.8 105.8,539.8 105.8,541.6 106.8,541.6 106.8,541 107.8,541 107.8,540.9 108.8,540.9 108.8,539.4 109.8,539.4 109.8,538.7 110.8,538.7 110.8,538.2 111.8,538.2 111.8,536.5 112.8,536.5 112.8,538.7 113.8,538.7 113.8,536.9 114.8,536.9 114.8,534.8 115.8,534.8 115.8,534.6 116.8,534.6 116.8,534 117.8,534 117.8,531.8 118.8,531.8 118.8,532.5 119.8,532.5 119.8,528.7 120.8,528.7 120.8,526 121.8,526 121.8,528 122.8,528 122.8,520.9 123.8,520.9 123.8,521.3 124.8,521.3 124.8,518.5 125.8,518.5 125.8,514.7 126.8,514.7 126.8,509.5 127.8,509.5 127.8,508.2 128.8,508.2 128.8,508.7 129.8,508.7 129.8,508.3 130.8,508.3 130.8,502.9 131.8,502.9 131.8,499.7 132.8,499.7 132.8,500.2 133.8,500.2 133.8,499.3 134.8,499.3 134.8,500.2 135.8,500.2 135.8,500.1 136.8,500.1 136.8,497.8 137.8,497.8 137.8,494.7 138.8,494.7 138.8,495.5 139.8,495.5 139.8,495.2 140.8,495.2 140.8,494.5 141.8,494.5 141.8,493.9 142.8,493.9 142.8,495.4 143.8,495.4 143.8,490.1 144.8,490.1 144.8,494.1 145.8,494.1 145.8,494.3 146.8,494.3 146.8,498.1 147.8,498.1 147.8,503.2 148.8,503.2 148.8,506.1 149.8,506.1 149.8,505 150.8,505 150.8,506.3 151.8,506.3 151.8,506 152.8,506 152.8,507.3 153.8,507.3 153.8,509.1 154.8,509.1 154.8,510.5 155.8,510.5 155.8,508.9 156.8,508.9 156.8,514 157.8,514 157.8,514.5 158.8,514.5 158.8,523.8 159.8,523.8 159.8,530 160.8,530 160.8,533.7 161.8,533.7 161.8,536.8 162.8,536.8 162.8,541.8 163.8,541.8 163.8,544.8 164.8,544.8 164.8,547 165.8,547 165.8,548.7 166.8,548.7 166.8,549.1 167.8,549.1 167.8,549.5 168.8,549.5 168.8,552.4 169.8,552.4 169.8,551.7 170.8,551.7 170.8,552.7 171.8,552.7 171.8,552.6 172.8,552.6 172.8,552.5 173.8,552.5 173.8,552.7 174.8,552.7 174.8,553.2 175.8,553.2 175.8,553.7 176.8,553.7 176.8,553.7 177.8,553.7 177.8,553.7 178.8,553.7 178.8,553.5 179.8,553.5 179.8,554.2 180.8,554.2 180.8,554.3 181.8,554.3 181.8,554.7 182.8,554.7 182.8,555.1 183.8,555.1 183.8,554.9 184.8,554.9 184.8,555 185.8,555 185.8,554.9 186,554.9 186,555.2 186,555.6" fill="#000" stroke="#000" stroke-width="0.5" stroke-linejoin="miter"/>
<polyline points="55.8,512 56.5,500 57.7,493 58.8,486 60,480 61.2,477 62.3,472.3 63.5,467.7 64.6,456.2 65.8,444.6 66.9,437.7 68.1,433.1 69.2,437.7 70.4,425 71.5,433.1 72.7,425 73.8,433.1 75,428.5 76.2,440 77.3,446.9 78.5,456.2 79.6,467.7 80.8,476.9 81.9,483.8 83.1,486.2 84.2,495 85.4,504.6 87.7,520.8 89.5,532.3 91.2,539.2 93.5,541.5 96,542.5" fill="none" stroke="#000" stroke-width="1.3" stroke-linejoin="round"/>
<polyline points="55.8,510.4 57.7,516.2 60,524.2 62.3,530 64.6,532.3 66.9,533.5 69.2,531.2 71.5,535.8 73.8,533.5 76.2,538.1 78.5,539.2 80.8,536.9 83.1,539.2 84.8,540.1 86.5,540.4 88.2,539.6 90,538.1 91.8,539 93.5,539.2 95.2,538.4 96.9,538.1 98.7,539.1 100.4,538.1 102.1,537.9 103.8,538.1 105.5,538.2 107.3,536.9 109,536.3 110.8,533.5 112.5,532.4 114.2,530 116.5,526.5 118.8,525.4 120,524.5 121.7,521.2 123.3,517.9 125,514.6 127.5,509 130,506 132.4,502.2 134.1,498.5 135.7,498.1 137.4,494.8 138.2,485.7 138.6,492.3 140.3,494 142.4,490.7 143.6,487.4 144.8,482.4 145.2,475.4 146.1,484.9 146.9,487.4 148.1,490.7 149.8,492.3 151,489.8 151.9,491.5 153.1,494.8 153.9,498.9 154.3,504.7 155.2,508.8 156,511.3 156.8,513.8 158.1,518.8 158.8,524.5 160.5,531.2 162.1,536.1 163.8,541.1 166.3,546 168.8,551 171.2,553.5 172.8,554.8 174.4,553.5 176,555.2" fill="none" stroke="#000" stroke-width="1.3" stroke-linejoin="round"/>
<path d="M55.5,425 V555.6 H250.6" fill="none" stroke="#000" stroke-width="1.25"/>
<path d="M53.5,425H55.5M53.5,438.1H55.5M53.5,451.1H55.5M53.5,464.2H55.5M53.5,477.2H55.5M53.5,490.3H55.5M53.5,503.4H55.5M53.5,516.4H55.5M53.5,529.5H55.5M53.5,542.5H55.5" stroke="#000" stroke-width="1"/>
<text x="52.1" y="425" transform="rotate(-90 52.1 425)" font-family="Liberation Serif, serif" font-size="7.4" font-weight="bold" text-anchor="middle" fill="#000">50</text>
<text x="52.1" y="555.3" transform="rotate(-90 52.1 555.3)" font-family="Liberation Serif, serif" font-size="7" text-anchor="middle" fill="#000">0</text>
<text x="55.8" y="563.7" font-family="Liberation Serif, serif" font-size="8" font-weight="bold" text-anchor="middle" fill="#000">10<tspan font-size="5" dy="-3">0</tspan></text>
<text x="103.2" y="563.7" font-family="Liberation Serif, serif" font-size="8" font-weight="bold" text-anchor="middle" fill="#000">10<tspan font-size="5" dy="-3">1</tspan></text>
<text x="150.5" y="563.7" font-family="Liberation Serif, serif" font-size="8" font-weight="bold" text-anchor="middle" fill="#000">10<tspan font-size="5" dy="-3">2</tspan></text>
<text x="199.4" y="563.7" font-family="Liberation Serif, serif" font-size="8" font-weight="bold" text-anchor="middle" fill="#000">10<tspan font-size="5" dy="-3">3</tspan></text>
<text x="249.3" y="563.7" font-family="Liberation Serif, serif" font-size="8" font-weight="bold" text-anchor="middle" fill="#000">10<tspan font-size="5" dy="-3">4</tspan></text>
<text x="219.7" y="439.5" transform="scale(0.92,1)" font-family="Liberation Sans, Arial, sans-serif" font-weight="bold" font-size="14.6" stroke="#000" stroke-width="0.5" textLength="43.4" lengthAdjust="spacing" fill="#000">IL-6R</text>
<rect x="287.3" y="413.3" width="229.9" height="154.1" fill="none" stroke="#000" stroke-width="1.7"/>
<path d="M345.8,516H500M500,514V519.2M496,511.5V516M345.8,512.5V519.5" fill="none" stroke="#333" stroke-width="0.9"/>
<polygon points="334.6,553.8 334.6,553.8 334.6,553.5 335.6,553.5 335.6,553.2 336.6,553.2 336.6,552.9 337.6,552.9 337.6,552.5 338.6,552.5 338.6,552.1 339.6,552.1 339.6,552.5 340.6,552.5 340.6,551.8 341.6,551.8 341.6,551.7 342.6,551.7 342.6,551.5 343.6,551.5 343.6,550.9 344.6,550.9 344.6,550.8 345.6,550.8 345.6,550.3 346.6,550.3 346.6,549.8 347.6,549.8 347.6,550.1 348.6,550.1 348.6,549.5 349.6,549.5 349.6,548.2 350.6,548.2 350.6,548.5 351.6,548.5 351.6,546.5 352.6,546.5 352.6,547.1 353.6,547.1 353.6,546 354.6,546 354.6,545.1 355.6,545.1 355.6,546.4 356.6,546.4 356.6,543.9 357.6,543.9 357.6,545.1 358.6,545.1 358.6,543.5 359.6,543.5 359.6,545.6 360.6,545.6 360.6,543.9 361.6,543.9 361.6,544 362.6,544 362.6,543.5 363.6,543.5 363.6,542.1 364.6,542.1 364.6,542.4 365.6,542.4 365.6,541 366.6,541 366.6,543.1 367.6,543.1 367.6,540.4 368.6,540.4 368.6,540.5 369.6,540.5 369.6,539.6 370.6,539.6 370.6,541.6 371.6,541.6 371.6,539 372.6,539 372.6,538 373.6,538 373.6,538.2 374.6,538.2 374.6,535.9 375.6,535.9 375.6,535.4 376.6,535.4 376.6,537.7 377.6,537.7 377.6,537.9 378.6,537.9 378.6,538 379.6,538 379.6,535.8 380.6,535.8 380.6,537 381.6,537 381.6,537.1 382.6,537.1 382.6,536.9 383.6,536.9 383.6,537.1 384.6,537.1 384.6,536.5 385.6,536.5 385.6,535.5 386.6,535.5 386.6,534.1 387.6,534.1 387.6,536.2 388.6,536.2 388.6,533.3 389.6,533.3 389.6,536.3 390.6,536.3 390.6,537 391.6,537 391.6,534.9 392.6,534.9 392.6,535.1 393.6,535.1 393.6,534.5 394.6,534.5 394.6,531.4 395.6,531.4 395.6,532 396.6,532 396.6,532.3 397.6,532.3 397.6,532.4 398.6,532.4 398.6,531.1 399.6,531.1 399.6,529.4 400.6,529.4 400.6,531.7 401.6,531.7 401.6,529.7 402.6,529.7 402.6,530.1 403.6,530.1 403.6,526.8 404.6,526.8 404.6,525.8 405.6,525.8 405.6,524.8 406.6,524.8 406.6,520 407.6,520 407.6,518.8 408.6,518.8 408.6,515 409.6,515 409.6,515.2 410.6,515.2 410.6,514.9 411.6,514.9 411.6,515 412.6,515 412.6,508.1 413.6,508.1 413.6,504.8 414.6,504.8 414.6,507.5 415.6,507.5 415.6,511.9 416.6,511.9 416.6,505.9 417.6,505.9 417.6,501.6 418.6,501.6 418.6,505.6 419.6,505.6 419.6,509.2 420.6,509.2 420.6,506.9 421.6,506.9 421.6,502.2 422.6,502.2 422.6,504.3 423.6,504.3 423.6,509.3 424.6,509.3 424.6,504.3 425.6,504.3 425.6,502.8 426.6,502.8 426.6,501.9 427.6,501.9 427.6,499.2 428.6,499.2 428.6,503.2 429.6,503.2 429.6,507 430.6,507 430.6,506.4 431.6,506.4 431.6,510.5 432.6,510.5 432.6,506.7 433.6,506.7 433.6,508.4 434.6,508.4 434.6,506.5 435.6,506.5 435.6,504.6 436.6,504.6 436.6,506.6 437.6,506.6 437.6,508.4 438.6,508.4 438.6,511.1 439.6,511.1 439.6,511.8 440.6,511.8 440.6,515.2 441.6,515.2 441.6,510.2 442.6,510.2 442.6,514.1 443.6,514.1 443.6,515.8 444.6,515.8 444.6,516 445.6,516 445.6,515.5 446.6,515.5 446.6,518.2 447.6,518.2 447.6,516.1 448.6,516.1 448.6,520.3 449.6,520.3 449.6,521.7 450.6,521.7 450.6,522.1 451.6,522.1 451.6,523.3 452.6,523.3 452.6,523.1 453.6,523.1 453.6,524.2 454.6,524.2 454.6,528.2 455.6,528.2 455.6,530.3 456.6,530.3 456.6,530.5 457.6,530.5 457.6,532.5 458.6,532.5 458.6,533.7 459.6,533.7 459.6,535.4 460.6,535.4 460.6,535 461.6,535 461.6,537.6 462.6,537.6 462.6,539.2 463.6,539.2 463.6,538.1 464.6,538.1 464.6,540.5 465.6,540.5 465.6,541.5 466.6,541.5 466.6,543 467.6,543 467.6,545 468.6,545 468.6,544.3 469.6,544.3 469.6,547.1 470.6,547.1 470.6,549.2 471.6,549.2 471.6,549.1 472.6,549.1 472.6,549.5 473.6,549.5 473.6,549.8 474.6,549.8 474.6,550.7 475.6,550.7 475.6,551.6 476.6,551.6 476.6,551.6 477.6,551.6 477.6,552.2 478.6,552.2 478.6,552.7 479.6,552.7 479.6,553 480.6,553 480.6,552.9 481.6,552.9 481.6,552.9 482.6,552.9 482.6,552.8 483.6,552.8 483.6,552.9 484.6,552.9 484.6,553.2 485.6,553.2 485.6,553.3 486.6,553.3 486.6,553.2 487.6,553.2 487.6,553.3 488.6,553.3 488.6,553.8 489.6,553.8 489.6,553.5 490.6,553.5 490.6,553.5 491.6,553.5 491.6,553.7 492.6,553.7 492.6,553.5 493.6,553.5 493.6,553.7 494.6,553.7 494.6,553.7 495.6,553.7 495.6,553.2 496.6,553.2 496.6,553.6 497.6,553.6 497.6,553.8 498.6,553.8 498.6,553.8 499.6,553.8 499.6,553.8 500,553.8 500,553.8 500,553.8" fill="#000" stroke="#000" stroke-width="0.5" stroke-linejoin="miter"/>
<polyline points="307.3,524 308.7,520 309.6,514.2 311.5,508.5 313.5,502.7 315.4,498.8 316.2,490.8 317.3,485 318.5,479.2 319.6,476.9 320.8,472.3 321.9,470 323.1,465.4 324.2,463.1 325.4,467.7 326.5,470 327.7,471.2 328.8,474.6 330,477 331.2,481.5 332.3,488.5 333.7,496.9 335.6,508.5 337.5,521.9 339.4,535.4 341.3,539.2 343.3,543.1 345.2,546.9 347.1,549.8 350,551.5 351.7,554 353.3,551.1 355,553" fill="none" stroke="#000" stroke-width="1.3" stroke-linejoin="round"/>
<polyline points="307.3,541.2 309.6,542.1 311.5,543.1 313.5,540.2 315.4,542.1 317.3,538.3 319.2,537.3 321.2,538.3 323.1,535.4 325,533.5 326,529.6 327.9,527.7 329.8,529.6 331.7,527.7 333.7,525.8 335,531.5 336.5,535.4 338.5,536.3 340.4,537.3 342.3,538.3 344.2,536.3 346.2,538.3 348.1,536.3 350,535.4 351.9,536.3 353.8,534.4 355.8,532.5 357.7,534.4 359.6,531.5 361.5,532.5 364.4,530.6 366.3,529.6 368.3,527.7 370.2,521.9 372.1,519 374,516.2 376,515.2 377.9,512.3 379.8,508.5 381.7,503.7 383.7,501.7 384.6,508.5 386.5,504.6 387.5,498.8 389.4,496 390,502.5 391.2,492.5 392.5,487.5 393.8,500 395,505 396.2,502.5 397.5,507.5 398.8,506.2 400,511.2 401.2,517.5 402.5,525 403.8,528.8 405,532" fill="none" stroke="#000" stroke-width="1.3" stroke-linejoin="round"/>
<path d="M307.2,423.8 V553.8 H500" fill="none" stroke="#000" stroke-width="1.25"/>
<path d="M305.2,423.8H307.2M305.2,436.8H307.2M305.2,449.8H307.2M305.2,462.8H307.2M305.2,475.8H307.2M305.2,488.8H307.2M305.2,501.8H307.2M305.2,514.8H307.2M305.2,527.8H307.2M305.2,540.8H307.2" stroke="#000" stroke-width="1"/>
<text x="303.6" y="425" transform="rotate(-90 303.6 425)" font-family="Liberation Serif, serif" font-size="7.4" font-weight="bold" text-anchor="middle" fill="#000">100</text>
<text x="303.6" y="553.5" transform="rotate(-90 303.6 553.5)" font-family="Liberation Serif, serif" font-size="7" text-anchor="middle" fill="#000">0</text>
<text x="310.1" y="561.9" font-family="Liberation Serif, serif" font-size="8" font-weight="bold" text-anchor="middle" fill="#000">10<tspan font-size="5" dy="-3">0</tspan></text>
<text x="353.4" y="561.9" font-family="Liberation Serif, serif" font-size="8" font-weight="bold" text-anchor="middle" fill="#000">10<tspan font-size="5" dy="-3">1</tspan></text>
<text x="401.9" y="561.9" font-family="Liberation Serif, serif" font-size="8" font-weight="bold" text-anchor="middle" fill="#000">10<tspan font-size="5" dy="-3">2</tspan></text>
<text x="448.1" y="561.9" font-family="Liberation Serif, serif" font-size="8" font-weight="bold" text-anchor="middle" fill="#000">10<tspan font-size="5" dy="-3">3</tspan></text>
<text x="498.8" y="561.9" font-family="Liberation Serif, serif" font-size="8" font-weight="bold" text-anchor="middle" fill="#000">10<tspan font-size="5" dy="-3">4</tspan></text>
<text x="499.2" y="438.5" transform="scale(0.92,1)" font-family="Liberation Sans, Arial, sans-serif" font-weight="bold" font-size="14.6" stroke="#000" stroke-width="0.5" textLength="43.2" lengthAdjust="spacing" fill="#000">IL-6R</text>
</svg></body></html>
